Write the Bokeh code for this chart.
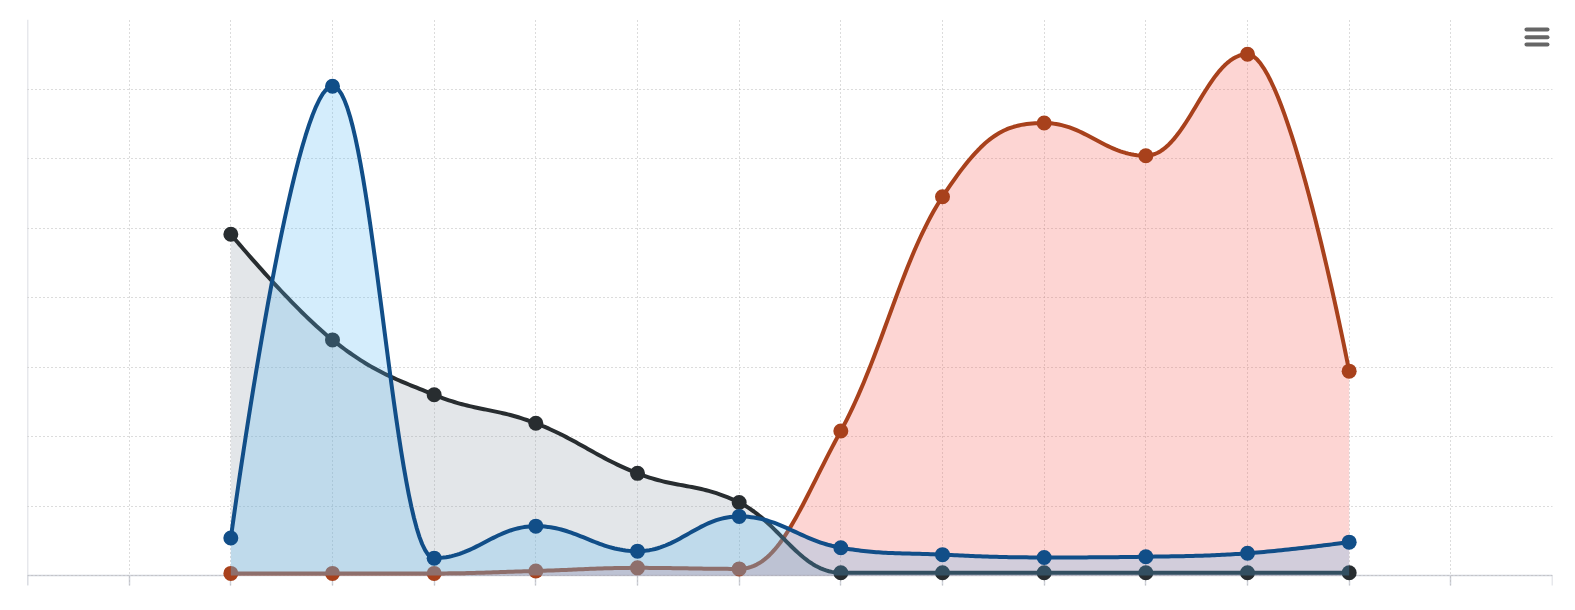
import numpy as np
from bokeh.plotting import figure
from bokeh.models import Range1d, FixedTicker, BoxAnnotation
from bokeh.embed import file_html
from bokeh.resources import INLINE

# ---- data ----
x_pos = [2, 3, 4, 5, 6, 7, 8, 9, 10, 11, 12, 13]
red_vals = [0.03, 0.03, 0.03, 0.065, 0.11, 0.095, 2.08, 5.45, 6.51, 6.04, 7.50, 2.94]
dark_vals = [4.91, 3.39, 2.60, 2.19, 1.47, 1.05, 0.04, 0.04, 0.04, 0.04, 0.04, 0.04]
blue_vals = [0.54, 7.04, 0.25, 0.71, 0.35, 0.85, 0.40, 0.30, 0.26, 0.27, 0.32, 0.48]
x_ticks = list(range(0, 16))
y_ticks = list(range(0, 9))


def spline(xs, ys, smoothing=1.5, n=40):
    """Highcharts-style spline through the data points (rendering only)."""
    N = len(xs)
    lc = [(xs[i], ys[i]) for i in range(N)]
    rc = [(xs[i], ys[i]) for i in range(N)]
    d = smoothing + 1
    for i in range(1, N - 1):
        lx, ly = xs[i - 1], ys[i - 1]
        px, py = xs[i], ys[i]
        nx, ny = xs[i + 1], ys[i + 1]
        lcx = (smoothing * px + lx) / d
        lcy = (smoothing * py + ly) / d
        rcx = (smoothing * px + nx) / d
        rcy = (smoothing * py + ny) / d
        corr = ((rcy - lcy) * (rcx - px)) / (rcx - lcx) + py - rcy
        lcy += corr
        rcy += corr
        if lcy > ly and lcy > py:
            lcy = max(ly, py); rcy = 2 * py - lcy
        elif lcy < ly and lcy < py:
            lcy = min(ly, py); rcy = 2 * py - lcy
        if rcy > ny and rcy > py:
            rcy = max(ny, py); lcy = 2 * py - rcy
        elif rcy < ny and rcy < py:
            rcy = min(ny, py); lcy = 2 * py - rcy
        lc[i] = (lcx, lcy)
        rc[i] = (rcx, rcy)
    t = np.linspace(0, 1, n)
    X, Y = [xs[0]], [ys[0]]
    for i in range(1, N):
        p0 = (xs[i - 1], ys[i - 1]); p1 = rc[i - 1]; p2 = lc[i]; p3 = (xs[i], ys[i])
        bx = (1 - t) ** 3 * p0[0] + 3 * (1 - t) ** 2 * t * p1[0] + 3 * (1 - t) * t ** 2 * p2[0] + t ** 3 * p3[0]
        by = (1 - t) ** 3 * p0[1] + 3 * (1 - t) ** 2 * t * p1[1] + 3 * (1 - t) * t ** 2 * p2[1] + t ** 3 * p3[1]
        X.extend(bx[1:]); Y.extend(by[1:])
    return np.array(X), np.array(Y)


PX_PER_UNIT = 69.5
PAD = 10  # px of frame below the baseline so that markers on it are not clipped
p = figure(frame_width=1525, frame_height=556 + PAD, output_backend="svg", toolbar_location=None,
           x_range=Range1d(0, 15), y_range=Range1d(-PAD / PX_PER_UNIT, 8),
           min_border_left=27, min_border_right=14, min_border_top=19, min_border_bottom=17)
p.outline_line_color = None
p.background_fill_color = "white"

grid_col = "#b9b9b9"
p.xgrid.ticker = FixedTicker(ticks=x_ticks)
p.ygrid.ticker = FixedTicker(ticks=y_ticks)
for g in (p.xgrid, p.ygrid):
    g.grid_line_color = grid_col
    g.grid_line_dash = "1 3"
    g.grid_line_width = 1
p.xgrid.bounds = (0, 15)

p.xaxis.ticker = FixedTicker(ticks=x_ticks)
p.xaxis.fixed_location = 0
p.xaxis.axis_line_color = "#cfd2da"
p.xaxis.axis_line_width = 1.5
p.xaxis.major_tick_line_color = "#cfd2da"
p.xaxis.major_tick_line_width = 1.5
p.xaxis.major_tick_out = 13
p.xaxis.major_tick_in = 0
p.xaxis.minor_tick_line_color = None
p.xaxis.major_label_text_color = None

p.yaxis.ticker = FixedTicker(ticks=y_ticks)
p.yaxis.axis_line_color = "#cfd2da"
p.yaxis.axis_line_width = 1.5
p.yaxis.major_tick_line_color = None
p.yaxis.minor_tick_line_color = None
p.yaxis.major_label_text_color = None
for ax in (p.xaxis[0], p.yaxis[0]):
    ax.level = "underlay"

series = [
    (red_vals, "#a8411c", (247, 87, 79)),
    (dark_vals, "#282d30", (143, 155, 167)),
    (blue_vals, "#114e88", (83, 183, 243)),
]
for vals, lc, fc in series:
    sx, sy = spline(x_pos, vals)
    p.varea(x=sx, y1=np.zeros_like(sy), y2=sy, fill_color="#%02x%02x%02x" % fc, fill_alpha=0.25)
    p.line(sx, sy, line_color=lc, line_width=4, line_join="round", line_cap="round")
    p.scatter(x_pos, vals, size=15, fill_color=lc, line_color=None)

# export menu icon (screen units, relative to the frame, measured from its bottom)
for top in (548.0, 540.3, 533.0):
    t = top + PAD
    p.add_layout(BoxAnnotation(left=1497, right=1522, top=t, bottom=t - 4,
                               left_units="screen", right_units="screen",
                               top_units="screen", bottom_units="screen",
                               fill_color="#666666", fill_alpha=1.0, line_color=None,
                               border_radius=2))

open("out.html", "w").write(file_html(p, INLINE))
